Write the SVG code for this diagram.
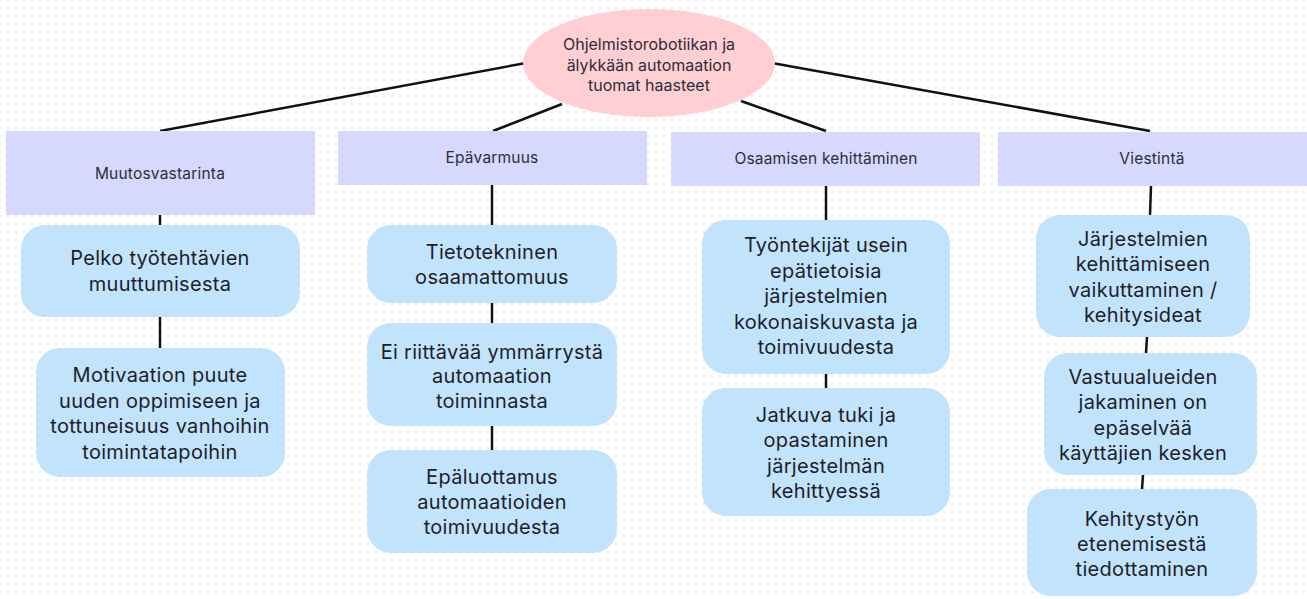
<svg xmlns="http://www.w3.org/2000/svg" width="1307" height="599" viewBox="0 0 1307 599">
<defs>
<pattern id="dots" x="4" y="4" width="8" height="8" patternUnits="userSpaceOnUse">
<circle cx="4" cy="4" r="1" fill="#e2e2e2"/>
</pattern>
<style>
.cat{fill:#d6d8fd}
.node{fill:#c2e3fc}
.ct{font-family:"Inter","Open Sans",sans-serif;font-size:15.5px;fill:#2d2d3a;text-anchor:middle;letter-spacing:0.2px}
.nt{font-family:"Inter","Open Sans",sans-serif;font-size:20px;fill:#1e1e28;text-anchor:middle;letter-spacing:0.3px}
.tt{font-family:"Inter","Open Sans",sans-serif;font-size:16px;fill:#2d2d3a;text-anchor:middle}
.ln{stroke:#111;stroke-width:2.5;fill:none;stroke-linecap:butt}
</style>
</defs>
<rect width="1307" height="599" fill="#ffffff"/>
<rect width="1307" height="599" fill="url(#dots)"/>

<g id="connectors">
<line class="ln" x1="526" y1="63" x2="160" y2="131"/>
<line class="ln" x1="562" y1="104" x2="493" y2="131"/>
<line class="ln" x1="741" y1="101" x2="826" y2="131"/>
<line class="ln" x1="772" y1="63" x2="1150" y2="131"/>
<line class="ln" x1="160" y1="215" x2="160" y2="225"/>
<line class="ln" x1="160" y1="317" x2="160" y2="348"/>
<line class="ln" x1="492" y1="185" x2="492" y2="225"/>
<line class="ln" x1="492" y1="303" x2="492" y2="323"/>
<line class="ln" x1="492" y1="426" x2="492" y2="450"/>
<line class="ln" x1="826" y1="186" x2="826" y2="220"/>
<line class="ln" x1="826" y1="374" x2="826" y2="388"/>
<line class="ln" x1="1151" y1="186" x2="1150" y2="215"/>
<line class="ln" x1="1147" y1="337" x2="1146" y2="353"/>
<line class="ln" x1="1143" y1="475" x2="1142" y2="489"/>
</g>

<g id="root">
<ellipse cx="649" cy="63" rx="126" ry="54" fill="#ffcfd3"/>
<text class="tt" x="649" y="50">Ohjelmistorobotiikan ja</text>
<text class="tt" x="649" y="71">älykkään automaation</text>
<text class="tt" x="649" y="91">tuomat haasteet</text>
</g>

<g id="cat-muutosvastarinta">
<rect class="cat" x="6" y="131" width="309" height="84"/>
<text class="ct" x="160" y="179">Muutosvastarinta</text>
</g>
<g id="cat-epavarmuus">
<rect class="cat" x="338" y="131" width="309" height="54"/>
<text class="ct" x="492" y="163">Epävarmuus</text>
</g>
<g id="cat-osaaminen">
<rect class="cat" x="671" y="132" width="309" height="54"/>
<text class="ct" x="826" y="164">Osaamisen kehittäminen</text>
</g>
<g id="cat-viestinta">
<rect class="cat" x="998" y="132" width="309" height="54"/>
<text class="ct" x="1152" y="164">Viestintä</text>
</g>

<g id="n-pelko">
<rect class="node" x="21" y="225" width="279" height="92" rx="24"/>
<text class="nt" x="160" y="265">Pelko työtehtävien</text>
<text class="nt" x="160" y="291">muuttumisesta</text>
</g>
<g id="n-motivaatio">
<rect class="node" x="36" y="348" width="249" height="129" rx="24"/>
<text class="nt" x="160" y="382">Motivaation puute</text>
<text class="nt" x="160" y="408">uuden oppimiseen ja</text>
<text class="nt" x="160" y="433">tottuneisuus vanhoihin</text>
<text class="nt" x="160" y="459">toimintatapoihin</text>
</g>

<g id="n-tietotekninen">
<rect class="node" x="367" y="225" width="250" height="78" rx="24"/>
<text class="nt" x="492" y="259">Tietotekninen</text>
<text class="nt" x="492" y="284">osaamattomuus</text>
</g>
<g id="n-ymmarrys">
<rect class="node" x="367" y="323" width="250" height="103" rx="24"/>
<text class="nt" x="492" y="359">Ei riittävää ymmärrystä</text>
<text class="nt" x="492" y="383">automaation</text>
<text class="nt" x="492" y="408">toiminnasta</text>
</g>
<g id="n-epaluottamus">
<rect class="node" x="367" y="450" width="250" height="103" rx="24"/>
<text class="nt" x="492" y="484">Epäluottamus</text>
<text class="nt" x="492" y="509">automaatioiden</text>
<text class="nt" x="492" y="534">toimivuudesta</text>
</g>

<g id="n-tyontekijat">
<rect class="node" x="702" y="220" width="248" height="154" rx="24"/>
<text class="nt" x="826" y="252">Työntekijät usein</text>
<text class="nt" x="826" y="278">epätietoisia</text>
<text class="nt" x="826" y="303">järjestelmien</text>
<text class="nt" x="826" y="329">kokonaiskuvasta ja</text>
<text class="nt" x="826" y="354">toimivuudesta</text>
</g>
<g id="n-jatkuva">
<rect class="node" x="702" y="388" width="248" height="128" rx="24"/>
<text class="nt" x="826" y="422">Jatkuva tuki ja</text>
<text class="nt" x="826" y="447">opastaminen</text>
<text class="nt" x="826" y="473">järjestelmän</text>
<text class="nt" x="826" y="498">kehittyessä</text>
</g>

<g id="n-jarjestelmien">
<rect class="node" x="1036" y="215" width="214" height="122" rx="24"/>
<text class="nt" x="1143" y="246">Järjestelmien</text>
<text class="nt" x="1143" y="271">kehittämiseen</text>
<text class="nt" x="1143" y="297">vaikuttaminen /</text>
<text class="nt" x="1143" y="322">kehitysideat</text>
</g>
<g id="n-vastuualueet">
<rect class="node" x="1044" y="353" width="213" height="122" rx="24"/>
<text class="nt" x="1143" y="384">Vastuualueiden</text>
<text class="nt" x="1143" y="409">jakaminen on</text>
<text class="nt" x="1143" y="435">epäselvää</text>
<text class="nt" x="1143" y="460">käyttäjien kesken</text>
</g>
<g id="n-kehitystyo">
<rect class="node" x="1027" y="489" width="230" height="107" rx="24"/>
<text class="nt" x="1142" y="526">Kehitystyön</text>
<text class="nt" x="1142" y="551">etenemisestä</text>
<text class="nt" x="1142" y="576">tiedottaminen</text>
</g>
</svg>
